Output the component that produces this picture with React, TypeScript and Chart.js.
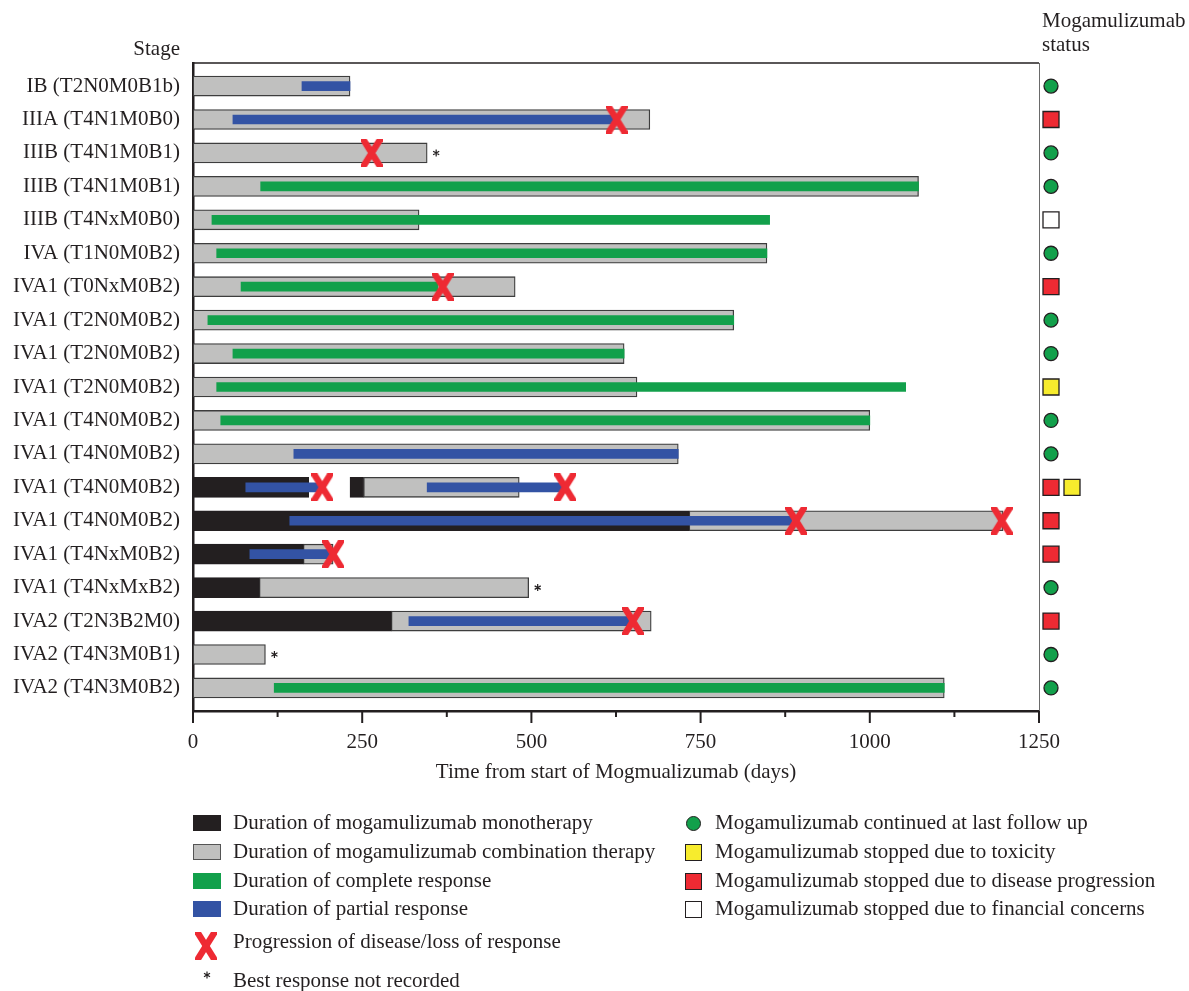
import React, { useEffect, useRef } from "react";
import { Chart, registerables } from "chart.js";

Chart.register(...registerables);

const stages: string[] = [
  "IB (T2N0M0B1b)",
  "IIIA (T4N1M0B0)",
  "IIIB (T4N1M0B1)",
  "IIIB (T4N1M0B1)",
  "IIIB (T4NxM0B0)",
  "IVA (T1N0M0B2)",
  "IVA1 (T0NxM0B2)",
  "IVA1 (T2N0M0B2)",
  "IVA1 (T2N0M0B2)",
  "IVA1 (T2N0M0B2)",
  "IVA1 (T4N0M0B2)",
  "IVA1 (T4N0M0B2)",
  "IVA1 (T4N0M0B2)",
  "IVA1 (T4N0M0B2)",
  "IVA1 (T4NxM0B2)",
  "IVA1 (T4NxMxB2)",
  "IVA2 (T2N3B2M0)",
  "IVA2 (T4N3M0B1)",
  "IVA2 (T4N3M0B2)",
];

type Seg = [number, number] | null;

// Duration of mogamulizumab monotherapy (days)
const monotherapy: Seg[] = [
  null, null, null, null, null, null, null, null, null, null, null, null,
  [0, 171], [0, 733], [0, 163], [0, 98], [0, 293], null, null,
];
const monotherapy2: Seg[] = [
  null, null, null, null, null, null, null, null, null, null, null, null,
  [232, 252], null, null, null, null, null, null,
];
// Duration of mogamulizumab combination therapy (days)
const combination: Seg[] = [
  [0, 232], [0, 675], [0, 346], [0, 1072], [0, 334], [0, 848], [0, 476],
  [0, 799], [0, 637], [0, 656], [0, 1000], [0, 717], [252, 482], [733, 1197],
  [163, 207], [98, 496], [293, 677], [0, 107], [0, 1110],
];
// Duration of complete response (days)
const complete: Seg[] = [
  null, null, null, [100, 1072], [28, 852], [35, 848], [71, 362], [22, 799],
  [59, 637], [35, 1053], [41, 1000], null, null, null, null, null, null, null,
  [120, 1110],
];
// Duration of partial response (days)
const partial: Seg[] = [
  [161, 232], [59, 626], null, null, null, null, null, null, null, null, null,
  [149, 717], [78, 188], [143, 885], [84, 203], null, [319, 650], null, null,
];
const partial2: Seg[] = [
  null, null, null, null, null, null, null, null, null, null, null, null,
  [346, 550], null, null, null, null, null, null,
];
// Progression of disease / loss of response
const progressionRows: number[] = [1, 2, 6, 12, 12, 13, 13, 14, 16];
const progressionDays: number[] = [626, 264, 369, 191, 550, 891, 1195, 207, 650];
// Best response not recorded
const notRecordedRows: number[] = [2, 15, 17];
// Mogamulizumab status per row
const statusList: string[][] = [
  ["continued"], ["progression"], ["continued"], ["continued"], ["financial"],
  ["continued"], ["progression"], ["continued"], ["continued"], ["toxicity"],
  ["continued"], ["continued"], ["progression", "toxicity"], ["progression"],
  ["progression"], ["continued"], ["progression"], ["continued"], ["continued"],
];
const xTicks: number[] = [0, 250, 500, 750, 1000, 1250];

const C_BLACK = "#231f20";
const C_GRAY = "#c0c0bf";
const C_GRAY_BORDER = "#3d3d3d";
const C_GREEN = "#12a04b";
const C_BLUE = "#3353a4";
const C_RED = "#ee2a33";
const C_YELLOW = "#f7ec2d";
const FONT = "'Liberation Serif', 'Times New Roman', serif";

const statusFill: Record<string, string> = {
  continued: C_GREEN,
  toxicity: C_YELLOW,
  progression: C_RED,
  financial: "#ffffff",
};

function toPoints(arr: Seg[]) {
  const out: any[] = [];
  arr.forEach((v, i) => {
    if (v) out.push({ x: v, y: i });
  });
  return out;
}

function makeX(): HTMLCanvasElement {
  const c = document.createElement("canvas");
  c.width = 22;
  c.height = 28;
  const ctx = c.getContext("2d")!;
  ctx.strokeStyle = C_RED;
  ctx.lineWidth = 6.5;
  ctx.lineCap = "butt";
  ctx.beginPath();
  ctx.moveTo(1, -2);
  ctx.lineTo(21, 30);
  ctx.moveTo(21, -2);
  ctx.lineTo(1, 30);
  ctx.stroke();
  return c;
}

function drawAsterisk(ctx: CanvasRenderingContext2D, x: number, y: number, r: number) {
  ctx.save();
  ctx.strokeStyle = C_BLACK;
  ctx.lineWidth = 1.2;
  ctx.beginPath();
  for (let k = 0; k < 6; k++) {
    const a = (Math.PI / 3) * k - Math.PI / 2;
    ctx.moveTo(x, y);
    ctx.lineTo(x + r * Math.cos(a), y + r * Math.sin(a));
  }
  ctx.stroke();
  ctx.restore();
}

const overlayPlugin = {
  id: "overlay",
  afterDatasetsDraw(chart: any) {
    const { ctx, chartArea, scales } = chart;
    const xs = scales.x;
    const ys = scales.y;
    ctx.save();
    // frame top & right
    ctx.strokeStyle = C_BLACK;
    ctx.lineWidth = 1.5;
    ctx.beginPath();
    ctx.moveTo(chartArea.left, chartArea.top);
    ctx.lineTo(chartArea.right, chartArea.top);
    ctx.stroke();
    ctx.strokeStyle = "#6a6a6a";
    ctx.lineWidth = 1;
    ctx.beginPath();
    ctx.moveTo(chartArea.right + 0.5, chartArea.top);
    ctx.lineTo(chartArea.right + 0.5, chartArea.bottom);
    ctx.stroke();
    // x tick marks
    ctx.strokeStyle = C_BLACK;
    ctx.lineWidth = 2;
    xs.ticks.forEach((t: any) => {
      const px = xs.getPixelForValue(t.value);
      const len = t.value % 250 === 0 ? 12 : 6;
      ctx.beginPath();
      ctx.moveTo(px, chartArea.bottom);
      ctx.lineTo(px, chartArea.bottom + len);
      ctx.stroke();
    });
    // not-recorded asterisks
    notRecordedRows.forEach((row) => {
      const seg = combination[row];
      if (!seg) return;
      const px = xs.getPixelForValue(seg[1]) + 9;
      const py = ys.getPixelForValue(row);
      drawAsterisk(ctx, px, py, 3.5);
    });
    // status markers
    statusList.forEach((list, row) => {
      const py = ys.getPixelForValue(row);
      list.forEach((s, k) => {
        const cx = chartArea.right + 12 + k * 21;
        ctx.fillStyle = statusFill[s];
        ctx.strokeStyle = C_BLACK;
        ctx.lineWidth = 1.3;
        ctx.beginPath();
        if (s === "continued") {
          ctx.arc(cx, py, 7, 0, Math.PI * 2);
        } else {
          ctx.rect(cx - 8, py - 8, 16, 16);
        }
        ctx.fill();
        ctx.stroke();
      });
    });
    ctx.restore();
  },
};

const txt: React.CSSProperties = {
  position: "absolute",
  fontFamily: FONT,
  fontSize: 21,
  lineHeight: "24px",
  color: C_BLACK,
  whiteSpace: "nowrap",
};

function XMark({ left, top }: { left: number; top: number }) {
  return (
    <svg style={{ position: "absolute", left, top }} width={22} height={28}>
      <defs>
        <clipPath id="xclip">
          <rect x={0} y={0} width={22} height={28} />
        </clipPath>
      </defs>
      <g clipPath="url(#xclip)" stroke={C_RED} strokeWidth={6.5}>
        <line x1={1} y1={-2} x2={21} y2={30} />
        <line x1={21} y1={-2} x2={1} y2={30} />
      </g>
    </svg>
  );
}

function Star({ cx, cy }: { cx: number; cy: number }) {
  const r = 3.5;
  const lines = [];
  for (let k = 0; k < 6; k++) {
    const a = (Math.PI / 3) * k - Math.PI / 2;
    lines.push(
      <line key={k} x1={6} y1={6} x2={6 + r * Math.cos(a)} y2={6 + r * Math.sin(a)} stroke={C_BLACK} strokeWidth={1.2} />
    );
  }
  return (
    <svg style={{ position: "absolute", left: cx - 6, top: cy - 6 }} width={12} height={12}>
      {lines}
    </svg>
  );
}

export default function App() {
  const ref = useRef<HTMLCanvasElement | null>(null);

  useEffect(() => {
    if (!ref.current) return;
    const xImg = makeX();
    const barBase = { grouped: false, borderSkipped: false as any };
    const chart = new Chart(ref.current, {
      type: "bar",
      data: {
        datasets: [
          {
            type: "scatter",
            label: "Progression",
            data: progressionRows.map((r, i) => ({ x: progressionDays[i], y: r })),
            pointStyle: xImg as any,
            pointRadius: 10,
            order: 1,
          } as any,
          {
            ...barBase,
            label: "Partial response",
            data: toPoints(partial),
            backgroundColor: C_BLUE,
            barThickness: 9,
            order: 2,
          },
          {
            ...barBase,
            label: "Partial response 2",
            data: toPoints(partial2),
            backgroundColor: C_BLUE,
            barThickness: 9,
            order: 2,
          },
          {
            ...barBase,
            label: "Complete response",
            data: toPoints(complete),
            backgroundColor: C_GREEN,
            barThickness: 9,
            order: 3,
          },
          {
            ...barBase,
            label: "Monotherapy",
            data: toPoints(monotherapy),
            backgroundColor: C_BLACK,
            borderColor: C_BLACK,
            borderWidth: 1,
            barThickness: 20,
            order: 4,
          },
          {
            ...barBase,
            label: "Monotherapy 2",
            data: toPoints(monotherapy2),
            backgroundColor: C_BLACK,
            borderColor: C_BLACK,
            borderWidth: 1,
            barThickness: 20,
            order: 4,
          },
          {
            ...barBase,
            label: "Combination therapy",
            data: toPoints(combination),
            backgroundColor: C_GRAY,
            borderColor: C_GRAY_BORDER,
            borderWidth: 1.3,
            barThickness: 20,
            order: 5,
          },
        ] as any,
      },
      options: {
        indexAxis: "y",
        animation: false,
        responsive: false,
        devicePixelRatio: 1,
        layout: { padding: { left: 0, right: 150, top: 63, bottom: 200 } },
        plugins: {
          legend: { display: false },
          tooltip: { enabled: false },
        },
        scales: {
          x: {
            type: "linear",
            min: 0,
            max: 1250,
            offset: false,
            afterBuildTicks: (scale: any) => {
              const t: any[] = [];
              for (let v = 0; v <= 1250; v += 125) t.push({ value: v });
              scale.ticks = t;
            },
            afterFit: (scale: any) => {
              scale.height = 80;
            },
            grid: { display: false, drawTicks: false },
            border: { display: true, color: C_BLACK, width: 2.5 },
            ticks: {
              padding: 19,
              color: C_BLACK,
              font: { family: FONT, size: 21 },
              autoSkip: false,
              maxRotation: 0,
              callback: (v: any) => (xTicks.indexOf(Number(v)) >= 0 ? String(v) : ""),
            },
            title: {
              display: true,
              text: "Time from start of Mogmualizumab (days)",
              color: C_BLACK,
              font: { family: FONT, size: 21 },
              padding: { top: 4, bottom: 6 },
            },
          },
          y: {
            type: "linear",
            reverse: true,
            offset: false,
            min: -0.69,
            max: 18.69,
            afterBuildTicks: (scale: any) => {
              scale.ticks = stages.map((_, i) => ({ value: i }));
            },
            afterFit: (scale: any) => {
              scale.width = 193;
            },
            grid: { display: false, drawTicks: false },
            border: { display: true, color: C_BLACK, width: 2.5 },
            ticks: {
              padding: 13,
              color: C_BLACK,
              autoSkip: false,
              font: { family: FONT, size: 21 },
              callback: (v: any) => stages[Number(v)] ?? "",
            },
          },
        },
      } as any,
      plugins: [overlayPlugin],
    });
    return () => chart.destroy();
  }, []);

  const leftLegend = [
    { y: 823, kind: "rect", fill: C_BLACK, border: C_BLACK, text: "Duration of mogamulizumab monotherapy" },
    { y: 852, kind: "rect", fill: C_GRAY, border: "#555", text: "Duration of mogamulizumab combination therapy" },
    { y: 881, kind: "rect", fill: C_GREEN, border: C_GREEN, text: "Duration of complete response" },
    { y: 909, kind: "rect", fill: C_BLUE, border: C_BLUE, text: "Duration of partial response" },
  ];
  const rightLegend = [
    { y: 823, kind: "circle", fill: C_GREEN, text: "Mogamulizumab continued at last follow up" },
    { y: 852, kind: "square", fill: C_YELLOW, text: "Mogamulizumab stopped due to toxicity" },
    { y: 881, kind: "square", fill: C_RED, text: "Mogamulizumab stopped due to disease progression" },
    { y: 909, kind: "square", fill: "#ffffff", text: "Mogamulizumab stopped due to financial concerns" },
  ];

  return (
    <div style={{ position: "fixed", left: 0, top: 0, width: 1189, height: 991, background: "#fff" }}>
      <canvas ref={ref} width={1189} height={991} style={{ position: "absolute", left: 0, top: 0 }} />
      <div style={{ ...txt, left: 0, width: 180, top: 36, textAlign: "right" }}>Stage</div>
      <div style={{ ...txt, left: 1042, top: 8 }}>
        Mogamulizumab
        <br />
        status
      </div>
      {leftLegend.map((it, i) => (
        <React.Fragment key={"l" + i}>
          <div
            style={{
              position: "absolute",
              left: 193,
              top: it.y - 8,
              width: 28,
              height: 16,
              boxSizing: "border-box",
              background: it.fill,
              border: `1.3px solid ${it.border}`,
            }}
          />
          <div style={{ ...txt, left: 233, top: it.y - 13 }}>{it.text}</div>
        </React.Fragment>
      ))}
      <XMark left={195} top={932} />
      <div style={{ ...txt, left: 233, top: 942 - 13 }}>Progression of disease/loss of response</div>
      <Star cx={207} cy={975} />
      <div style={{ ...txt, left: 233, top: 981 - 13 }}>Best response not recorded</div>
      {rightLegend.map((it, i) => (
        <React.Fragment key={"r" + i}>
          <div
            style={{
              position: "absolute",
              left: it.kind === "circle" ? 685.5 : 685,
              top: it.kind === "circle" ? it.y - 7.5 : it.y - 8.5,
              width: it.kind === "circle" ? 15 : 17,
              height: it.kind === "circle" ? 15 : 17,
              boxSizing: "border-box",
              background: it.fill,
              border: `1.3px solid ${C_BLACK}`,
              borderRadius: it.kind === "circle" ? "50%" : 0,
            }}
          />
          <div style={{ ...txt, left: 715, top: it.y - 13 }}>{it.text}</div>
        </React.Fragment>
      ))}
    </div>
  );
}
